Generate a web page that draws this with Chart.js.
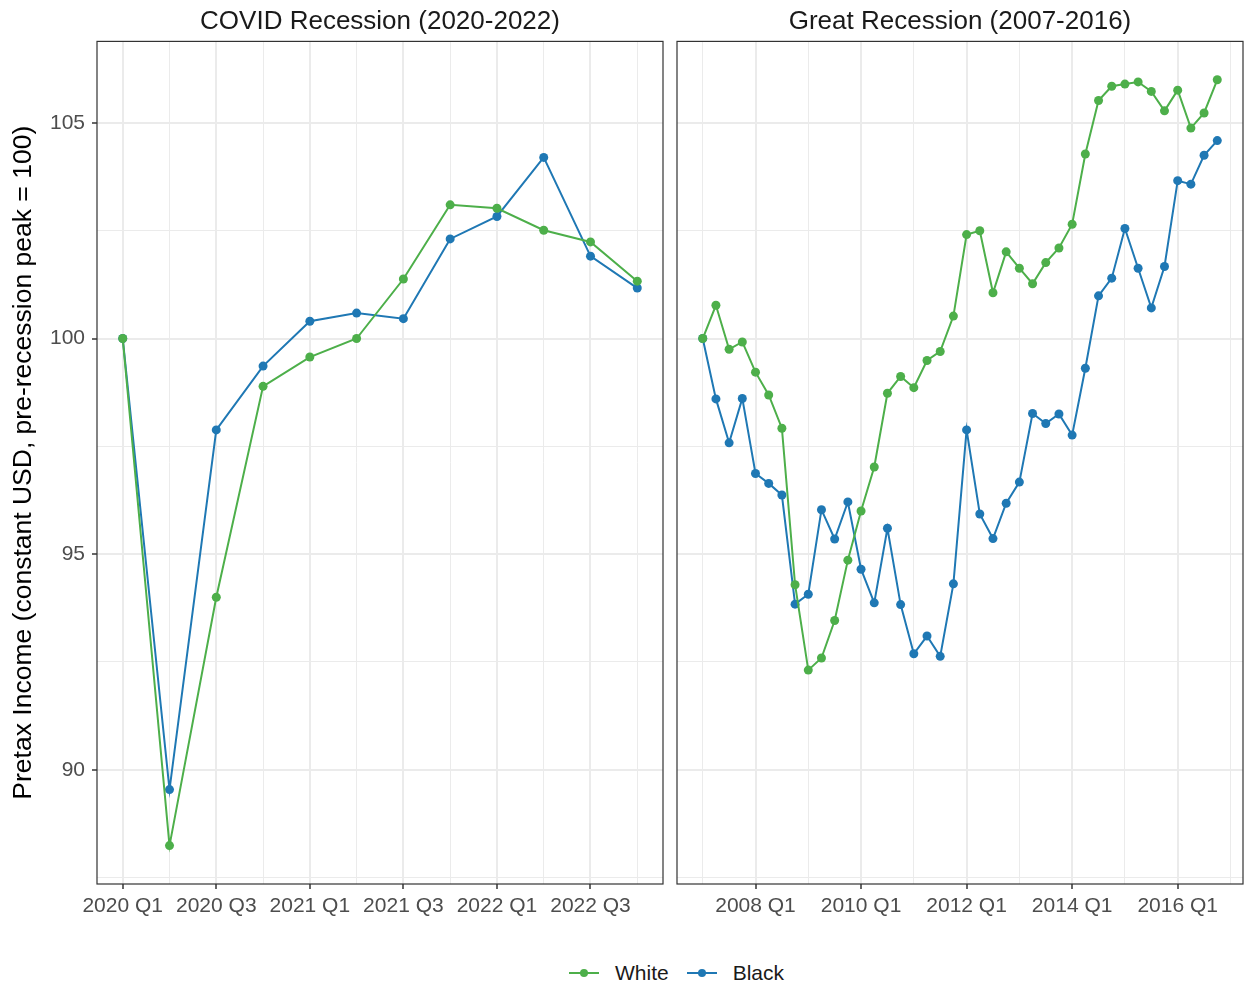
<!DOCTYPE html>
<html>
<head>
<meta charset="utf-8">
<title>Pretax income by race, two recessions</title>
<script src="https://cdn.jsdelivr.net/npm/chart.js@4.4.1/dist/chart.umd.min.js"></script>
<style>
    body { margin: 0; background: #fff; font-family: "Liberation Sans", Arial, sans-serif; }
    #page { position: relative; width: 1244px; height: 985px; overflow: hidden; }
    .panel { position: absolute; top: 0; }
    #legend { position: absolute; top: 961px; left: 569px; display: flex; align-items: center; font-size: 21px; color: #1a1a1a; }
    .item { display: flex; align-items: center; margin-right: 18px; }
    .key { position: relative; width: 30px; height: 24px; margin-right: 16px; }
    .key .ln { position: absolute; left: 0; top: 11px; width: 30px; height: 2px; }
    .key .dot { position: absolute; left: 11px; top: 8px; width: 8px; height: 8px; border-radius: 50%; }
</style>
</head>
<body>
<div id="page">
    <canvas id="covid" class="panel" width="670" height="935" style="left:0"></canvas>
    <canvas id="great" class="panel" width="574" height="935" style="left:670px"></canvas>
    <div id="legend"></div>
</div>
<script>
const seriesNames = ['White', 'Black'];
const seriesColors = ['#4DAF4A', '#1F78B4'];

// quarter categories
function quarterLabels(startYear, n) {
    const out = [];
    for (let i = 0; i < n; i++) out.push((startYear + Math.floor(i / 4)) + ' Q' + (i % 4 + 1));
    return out;
}
const covidQuarters = quarterLabels(2020, 12);
const greatQuarters = quarterLabels(2007, 40);

const covidTickLabels = ['2020 Q1', '2020 Q3', '2021 Q1', '2021 Q3', '2022 Q1', '2022 Q3'];
const greatTickLabels = ['2008 Q1', '2010 Q1', '2012 Q1', '2014 Q1', '2016 Q1'];

const covidWhite = [100, 88.24, 94.0, 98.89, 99.57, 100.0, 101.38, 103.1, 103.02, 102.51, 102.24, 101.33];
const covidBlack = [100, 89.54, 97.88, 99.36, 100.4, 100.59, 100.46, 102.31, 102.83, 104.2, 101.91, 101.17];

const greatWhite = [100, 100.77, 99.75, 99.92, 99.22, 98.69, 97.92, 94.29, 92.31, 92.59,
    93.46, 94.86, 96.0, 97.02, 98.73, 99.12, 98.86, 99.49, 99.7, 100.52,
    102.41, 102.5, 101.06, 102.01, 101.63, 101.27, 101.76, 102.1, 102.65, 104.28,
    105.52, 105.85, 105.9, 105.95, 105.73, 105.28, 105.76, 104.88, 105.23, 106.0];
const greatBlack = [100, 98.6, 97.58, 98.61, 96.87, 96.64, 96.37, 93.84, 94.07, 96.03,
    95.35, 96.21, 94.65, 93.87, 95.6, 93.83, 92.69, 93.1, 92.63, 94.31,
    97.88, 95.93, 95.36, 96.18, 96.67, 98.26, 98.03, 98.25, 97.76, 99.31,
    100.99, 101.4, 102.55, 101.63, 100.71, 101.67, 103.66, 103.58, 104.25, 104.59];

const yTickLabels = [90, 95, 100, 105];
const yMin = 87.35;
const yMax = 106.89;

const FONT = '"Liberation Sans", Arial, sans-serif';

// draws the panel frame round the plot area
const framePlugin = {
    id: 'frame',
    afterDraw(chart) {
        const a = chart.chartArea;
        const ctx = chart.ctx;
        ctx.save();
        ctx.strokeStyle = '#333333';
        ctx.lineWidth = 1.2;
        ctx.strokeRect(a.left, a.top, a.right - a.left, a.bottom - a.top);
        ctx.restore();
    }
};

function toPoints(values) {
    return values.map((v, i) => ({ x: i, y: v }));
}

function makePanel(id, cfg) {
    const majorX = cfg.tickLabels.map(l => cfg.quarters.indexOf(l));
    const half = (majorX[1] - majorX[0]) / 2;
    const xMin = -0.05 * (cfg.quarters.length - 1);
    const xMax = (cfg.quarters.length - 1) * 1.05;
    const minorX = [];
    majorX.forEach(m => {
        [m - half, m + half].forEach(v => {
            if (v >= xMin && v <= xMax && !minorX.includes(v) && !majorX.includes(v)) minorX.push(v);
        });
    });
    const xTicks = majorX.concat(minorX).sort((a, b) => a - b);

    const minorY = [];
    for (let i = 0; i <= yTickLabels.length; i++) {
        const v = (yTickLabels[0] - 2.5) + i * 5;
        if (v >= yMin && v <= yMax) minorY.push(v);
    }
    const yTicks = yTickLabels.concat(minorY).sort((a, b) => a - b);

    const series = [cfg.white, cfg.black];
    const datasets = series.map((vals, i) => ({
        label: seriesNames[i],
        data: toPoints(vals),
        borderColor: seriesColors[i],
        backgroundColor: seriesColors[i],
        borderWidth: 2,
        pointRadius: 4.5,
        pointBorderWidth: 0,
        tension: 0
    }));

    return new Chart(document.getElementById(id), {
        type: 'line',
        data: { datasets },
        plugins: [framePlugin],
        options: {
            responsive: false,
            animation: false,
            events: [],
            layout: { autoPadding: false, padding: { right: cfg.padRight, bottom: 0 } },
            plugins: {
                legend: { display: false },
                tooltip: { enabled: false },
                title: {
                    display: true,
                    text: cfg.title,
                    fullSize: false,
                    color: '#1a1a1a',
                    font: { family: FONT, size: 26, weight: 'normal' },
                    padding: { top: 6, bottom: 4.2 }
                }
            },
            scales: {
                x: {
                    type: 'linear',
                    min: xMin,
                    max: xMax,
                    afterBuildTicks: axis => { axis.ticks = xTicks.map(v => ({ value: v })); },
                    afterFit: axis => {
                        axis.height = 51;
                        axis.paddingLeft = 0;
                        axis.paddingRight = 0;
                    },
                    border: { display: false },
                    grid: {
                        color: '#ebebeb',
                        lineWidth: c => majorX.includes(c.tick.value) ? 2 : 1,
                        tickColor: c => majorX.includes(c.tick.value) ? '#333333' : 'rgba(0,0,0,0)',
                        tickWidth: 1.5,
                        tickLength: 5
                    },
                    ticks: {
                        autoSkip: false,
                        maxRotation: 0,
                        padding: 5,
                        color: '#4d4d4d',
                        font: { family: FONT, size: 21 },
                        callback: v => majorX.includes(v) ? cfg.quarters[v] : ''
                    }
                },
                y: {
                    min: yMin,
                    max: yMax,
                    afterBuildTicks: axis => { axis.ticks = yTicks.map(v => ({ value: v })); },
                    afterFit: axis => { axis.width = cfg.yWidth; },
                    border: { display: false },
                    grid: {
                        color: '#ebebeb',
                        lineWidth: c => yTickLabels.includes(c.tick.value) ? 2 : 1,
                        drawTicks: cfg.showY,
                        tickColor: c => yTickLabels.includes(c.tick.value) ? '#333333' : 'rgba(0,0,0,0)',
                        tickWidth: 1.5,
                        tickLength: 5
                    },
                    ticks: {
                        display: cfg.showY,
                        padding: 7,
                        color: '#4d4d4d',
                        font: { family: FONT, size: 21 },
                        callback: v => yTickLabels.includes(v) ? v : ''
                    },
                    title: {
                        display: cfg.showY,
                        text: 'Pretax Income (constant USD, pre-recession peak = 100)',
                        color: '#000000',
                        font: { family: FONT, size: 26.5 },
                        padding: { top: 8, bottom: 4 }
                    }
                }
            }
        }
    });
}

makePanel('covid', {
    title: 'COVID Recession (2020-2022)',
    quarters: covidQuarters,
    tickLabels: covidTickLabels,
    white: covidWhite,
    black: covidBlack,
    showY: true,
    yWidth: 97,
    padRight: 7
});

makePanel('great', {
    title: 'Great Recession (2007-2016)',
    quarters: greatQuarters,
    tickLabels: greatTickLabels,
    white: greatWhite,
    black: greatBlack,
    showY: false,
    yWidth: 7,
    padRight: 1
});

// legend below both panels
const legend = document.getElementById('legend');
seriesNames.forEach((name, i) => {
    const item = document.createElement('div');
    item.className = 'item';
    item.innerHTML = '<div class="key"><div class="ln" style="background:' + seriesColors[i] + '"></div>' +
        '<div class="dot" style="background:' + seriesColors[i] + '"></div></div><span>' + name + '</span>';
    legend.appendChild(item);
});
</script>
</body>
</html>
